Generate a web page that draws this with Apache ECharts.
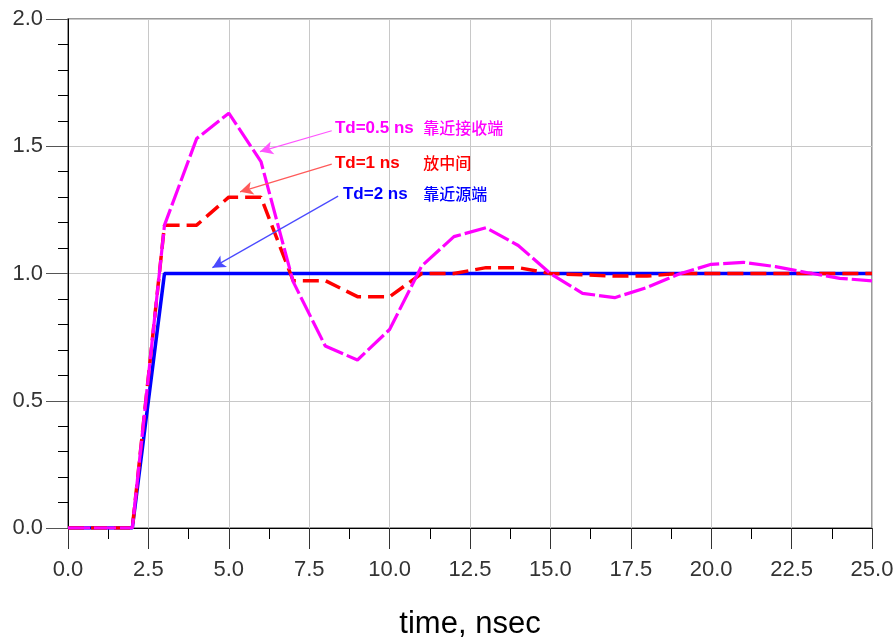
<!DOCTYPE html>
<html>
<head>
<meta charset="utf-8">
<script src="https://cdn.jsdelivr.net/npm/echarts@6/dist/echarts.min.js"></script>
<style>html,body{margin:0;padding:0;background:#fff}#c{width:896px;height:639px}</style>
</head>
<body>
<div id="c"></div>
<script>
// Data (time in ns)
var times = [0,1,2,3,4,5,6,7,8,9,10,11,12,13,14,15,16,17,18,19,20,21,22,23,24,25];
var td2Values = [0,0,0,1,1,1,1,1,1,1,1,1,1,1,1,1,1,1,1,1,1,1,1,1,1,1];
var td1Values = [0,0,0,1.19,1.19,1.30,1.30,0.972,0.972,0.909,0.909,1.00,1.00,1.023,1.023,1.00,0.995,0.99,0.99,1.0,1.0,1.0,1.0,1.0,1.0,1.0];
var td05Values = [0,0,0,1.19,1.53,1.63,1.44,0.968,0.715,0.66,0.78,1.03,1.145,1.18,1.11,1.0,0.922,0.905,0.945,0.998,1.036,1.044,1.027,1.003,0.981,0.971];
var seriesNames = ['Td=2 ns', 'Td=1 ns', 'Td=0.5 ns'];
var noteLatin = ['Td=2 ns', 'Td=1 ns', 'Td=0.5 ns'];
var noteCJK = ['靠近源端', '放中间', '靠近接收端'];
var xTickLabels = ['0.0','2.5','5.0','7.5','10.0','12.5','15.0','17.5','20.0','22.5','25.0'];
var yTickLabels = ['0.0','0.5','1.0','1.5','2.0'];

function pairs(vals){ return times.map(function(t,i){ return [t, vals[i]]; }); }

// annotation anchors (data coordinates)
var arrowFrom = [[8.4,1.304],[8.2,1.430],[8.2,1.561]];
var arrowTo = [[4.49,1.023],[5.35,1.321],[5.97,1.479]];
var textAt = [[8.55,1.312],[8.30,1.434],[8.30,1.572]];
var cjkAt = [[11.05,1.312],[11.05,1.434],[11.05,1.572]];
var colors = ['#0000ff','#ff0000','#ff00ff'];
var arrowColors = ['#4a4aff','#ff5a5a','#ff55ff'];

var chart = echarts.init(document.getElementById('c'), null, {renderer:'canvas'});
var FF = 'Liberation Sans, Arial, sans-serif';

function mk(i, vals, lineType, width){
  return {
    name: seriesNames[i], type:'line', data: pairs(vals), showSymbol:false, symbol:'none',
    animation:false, z: 2+i,
    lineStyle:{color:colors[i], width:width, type:lineType},
    markLine:{
      silent:true, animation:false, symbol:['none','arrow'], symbolSize:[10,13],
      label:{show:false},
      lineStyle:{color:arrowColors[i], width:1.2, type:'solid'},
      data:[[{coord:arrowFrom[i]},{coord:arrowTo[i]}]]
    }
  };
}

chart.setOption({
  backgroundColor:'#fff',
  animation:false,
  grid:{left:68, right:24, top:19, bottom:111, show:true, borderColor:'#7a7a7a', borderWidth:1.5,
    containLabel:false, outerBoundsMode:'none'},
  xAxis:{
    type:'value', min:0, max:25, interval:2.5,
    axisLine:{show:true, onZero:false, lineStyle:{color:'#000', width:1}},
    axisTick:{show:true, length:21, lineStyle:{color:'#333', width:1}},
    minorTick:{show:true, splitNumber:2, length:11, lineStyle:{color:'#000', width:1}},
    splitLine:{show:true, lineStyle:{color:'#c8c8c8', width:1}},
    axisLabel:{fontSize:22, color:'#333', margin:31, fontFamily:FF, hideOverlap:false,
      formatter:function(v){ var k=Math.round(v/2.5); return xTickLabels[k]; }},
    name:'time, nsec', nameLocation:'middle', nameGap:81,
    nameTextStyle:{fontSize:31, color:'#000', fontFamily:FF}
  },
  yAxis:{
    type:'value', min:0, max:2, interval:0.5,
    axisLine:{show:true, onZero:false, lineStyle:{color:'#000', width:1}},
    axisTick:{show:true, length:22, lineStyle:{color:'#555', width:1}},
    minorTick:{show:true, splitNumber:5, length:10, lineStyle:{color:'#000', width:1}},
    splitLine:{show:true, lineStyle:{color:'#c8c8c8', width:1}},
    axisLabel:{fontSize:22, color:'#333', margin:25, fontFamily:FF,
      formatter:function(v){ var k=Math.round(v/0.5); return yTickLabels[k]; }}
  },
  series:[
    mk(0, td2Values, 'solid', 3.5),
    mk(1, td1Values, [16,7], 3.5),
    mk(2, td05Values, [22,4], 3.2)
  ]
});

var g = [];
for (var i=0;i<3;i++){
  var p = chart.convertToPixel({gridIndex:0}, textAt[i]);
  var q = chart.convertToPixel({gridIndex:0}, cjkAt[i]);
  g.push({type:'text', x:p[0], y:p[1], z:10, style:{text:noteLatin[i], fill:colors[i],
    font:'bold 17px Liberation Sans, Arial, sans-serif', textVerticalAlign:'middle', textAlign:'left'}});
  g.push({type:'text', x:q[0], y:q[1], z:10, style:{text:noteCJK[i], fill:colors[i],
    font:'500 16px "Noto Sans CJK SC", sans-serif', textVerticalAlign:'middle', textAlign:'left'}});
}
chart.setOption({graphic:g});
</script>
</body>
</html>
